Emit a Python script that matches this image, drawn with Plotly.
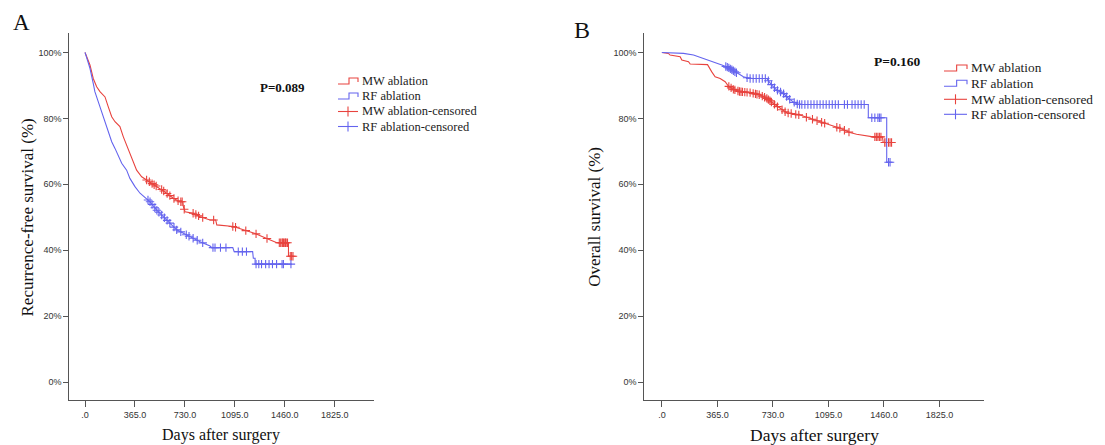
import numpy as np
import plotly.graph_objects as go

W, H = 1105, 445

# ---------------- data ----------------
x_tickvals = [0, 365, 730, 1095, 1460, 1825]
x_ticktext = [".0", "365.0", "730.0", "1095.0", "1460.0", "1825.0"]
y_tickvals = [0, 20, 40, 60, 80, 100]
y_ticktext = ["0%", "20%", "40%", "60%", "80%", "100%"]

# Panel A: recurrence-free survival
a_mw_days = [0, 36, 60, 85, 109, 146, 170, 195, 219, 255, 280, 304, 328, 353, 377, 414, 451, 487,
             548, 597, 645, 694, 715, 719, 731, 792, 841, 914, 955, 963, 1084, 1157, 1243, 1328,
             1402, 1487, 1487, 1523]
a_mw_surv = [100, 96.2, 92.1, 89.6, 88.1, 86.5, 83.5, 80.5, 79.0, 77.5, 74.4, 71.9, 69.4, 66.8,
             64.3, 62.3, 61.3, 60.3, 58.8, 57.3, 55.8, 54.7, 54.7, 53.2, 51.7, 51.2, 50.2, 49.2,
             49.2, 47.7, 47.2, 46.2, 45.1, 43.6, 42.3, 42.3, 38.2, 38.2]
a_rf_days = [0, 36, 60, 72, 97, 121, 146, 170, 195, 219, 243, 268, 304, 328, 365, 402, 475, 524,
             572, 621, 670, 719, 767, 841, 914, 926, 1080, 1090, 1225, 1230, 1243, 1243, 1511]
a_rf_surv = [100, 95.2, 90.6, 88.1, 85.0, 82.0, 79.0, 75.9, 72.9, 70.9, 68.4, 66.4, 64.3, 61.8,
             59.3, 57.3, 54.7, 52.2, 50.2, 48.2, 46.2, 45.2, 44.1, 42.6, 41.3, 40.8, 40.8, 39.6,
             39.6, 37.6, 37.6, 35.8, 35.8]
a_mw_cens = [450, 470, 490, 505, 520, 560, 575, 600, 620, 650, 680, 700, 710, 725, 790, 810, 830,
             860, 940, 1080, 1100, 1175, 1250, 1330, 1420, 1430, 1440, 1445, 1450, 1460, 1465, 1470,
             1480, 1500, 1510, 1520]
a_rf_cens = [460, 475, 490, 510, 525, 540, 560, 580, 600, 620, 650, 670, 700, 740, 760, 790, 820,
             860, 935, 950, 990, 1030, 1120, 1150, 1180, 1250, 1270, 1290, 1320, 1345, 1370, 1400,
             1440, 1450, 1505]

# Panel B: overall survival
b_mw_days = [0, 43, 54, 120, 131, 175, 186, 300, 328, 350, 383, 416, 437, 470, 514, 580, 645, 689,
             733, 777, 821, 908, 974, 1039, 1105, 1171, 1236, 1280, 1389, 1450, 1455, 1525]
b_mw_surv = [100, 99.7, 99.2, 98.7, 97.7, 97.2, 96.5, 96.3, 94.1, 92.6, 92.1, 91.1, 89.8, 88.8,
             88.1, 87.8, 87.1, 86.1, 84.5, 83.0, 81.7, 81.0, 80.0, 79.0, 78.0, 77.0, 75.7, 75.2,
             74.4, 74.4, 72.7, 72.7]
b_rf_days = [0, 76, 142, 208, 273, 339, 394, 437, 492, 536, 580, 689, 722, 755, 798, 831, 864, 897,
             1357, 1357, 1478, 1478, 1510]
b_rf_surv = [100, 99.9, 99.7, 99.2, 98.2, 97.2, 96.2, 95.4, 93.8, 92.6, 92.1, 92.1, 90.1, 88.6,
             87.6, 86.1, 85.0, 84.2, 84.2, 80.2, 80.2, 66.7, 66.7]
b_mw_cens = [440, 455, 470, 480, 500, 510, 520, 530, 545, 560, 580, 600, 615, 625, 640, 660, 675,
             690, 700, 710, 720, 740, 760, 790, 810, 830, 850, 880, 900, 950, 990, 1020, 1050, 1070,
             1150, 1170, 1200, 1230, 1400, 1410, 1420, 1430, 1440, 1465, 1475, 1490, 1500, 1510]
b_rf_cens = [420, 430, 440, 450, 460, 470, 480, 490, 560, 580, 600, 620, 640, 660, 680, 700, 720,
             740, 760, 780, 800, 820, 840, 870, 890, 905, 920, 940, 960, 980, 1000, 1020, 1040,
             1060, 1080, 1100, 1120, 1140, 1160, 1200, 1220, 1250, 1270, 1290, 1310, 1330, 1380,
             1400, 1420, 1430, 1440, 1490, 1500]

series_names = ["MW ablation", "RF ablation", "MW ablation-censored", "RF ablation-censored"]
p_values = ["P=0.089", "P=0.160"]
panel_letters = ["A", "B"]
y_titles = ["Recurrence-free survival (%)", "Overall survival (%)"]
x_title = "Days after surgery"

# ---------------- style ----------------
RED = "#e8433e"
BLUE = "#6464ee"
AXC = "#555555"
SERIF = "Liberation Serif, Times New Roman, serif"
SANS = "Arial, Liberation Sans, sans-serif"


def px(x):
    return x / W


def py(y):
    return 1 - y / H


fig = go.Figure()


def add_curve(days, surv, cens, color, xa, ya):
    fig.add_trace(go.Scatter(x=days, y=surv, mode="lines", line=dict(color=color, width=1.1),
                             xaxis=xa, yaxis=ya, hoverinfo="skip", showlegend=False))
    cy = np.interp(cens, days, surv)
    fig.add_trace(go.Scatter(x=cens, y=cy, mode="markers",
                             marker=dict(symbol="cross-thin", size=6,
                                         line=dict(color=color, width=1.1)),
                             xaxis=xa, yaxis=ya, hoverinfo="skip", showlegend=False))


add_curve(a_mw_days, a_mw_surv, a_mw_cens, RED, "x", "y")
add_curve(a_rf_days, a_rf_surv, a_rf_cens, BLUE, "x", "y")
add_curve(b_mw_days, b_mw_surv, b_mw_cens, RED, "x2", "y2")
add_curve(b_rf_days, b_rf_surv, b_rf_cens, BLUE, "x2", "y2")

ydom = [py(400), py(33.3)]
common_x = dict(range=[-115, 2115], tickvals=x_tickvals, ticktext=x_ticktext, ticks="outside",
                ticklen=6, tickcolor=AXC, tickwidth=1, showline=True, linecolor=AXC, linewidth=1,
                showgrid=False, zeroline=False, tickfont=dict(family=SANS, size=9, color="#333"),
                fixedrange=True)
common_y = dict(range=[-5.4, 105.8], tickvals=y_tickvals, ticktext=y_ticktext, ticks="outside",
                ticklen=5, tickcolor=AXC, tickwidth=1, showline=True, linecolor=AXC, linewidth=1,
                showgrid=False, zeroline=False, tickfont=dict(family=SANS, size=9, color="#333"),
                domain=ydom, fixedrange=True)

fig.update_layout(
    width=W, height=H, autosize=False,
    margin=dict(l=0, r=0, t=0, b=0, pad=0),
    paper_bgcolor="white", plot_bgcolor="white", showlegend=False,
    xaxis=dict(domain=[px(69.3), px(374.4)], anchor="y", **common_x),
    yaxis=dict(anchor="x", **common_y),
    xaxis2=dict(domain=[px(644.4), px(983.6)], anchor="y2", **common_x),
    yaxis2=dict(anchor="x2", **common_y),
)

ann = []
shapes = []


def text(x, y, s, size, family=SERIF, xanchor="center", textangle=0, color="#111"):
    ann.append(dict(x=px(x), y=py(y), xref="paper", yref="paper", text=s, showarrow=False,
                    xanchor=xanchor, yanchor="middle", textangle=textangle,
                    font=dict(family=family, size=size, color=color)))


# panel letters
text(21.5, 22.5, panel_letters[0], 23)
text(582, 30, panel_letters[1], 24)
# axis titles
text(27, 217.5, y_titles[0], 17, textangle=-90)
text(595, 216.7, y_titles[1], 17, textangle=-90)
text(221, 435, x_title, 16)
text(814, 435, x_title, 17.5)
# p values
text(282.5, 88, "<b>" + p_values[0] + "</b>", 13)
text(897, 62, "<b>" + p_values[1] + "</b>", 13.5)


def legend(x0, x1, rows, size):
    colors = [RED, BLUE, RED, BLUE]
    for i, (yy, c, name) in enumerate(zip(rows, colors, series_names)):
        if i < 2:
            xm = x0 + 0.55 * (x1 - x0)
            path = (f"M {px(x0)},{py(yy + 3)} L {px(xm)},{py(yy + 3)} L {px(xm)},{py(yy - 3)} "
                    f"L {px(x1)},{py(yy - 3)} L {px(x1)},{py(yy + 1)}")
            shapes.append(dict(type="path", xref="paper", yref="paper", path=path,
                               line=dict(color=c, width=1.1)))
        else:
            shapes.append(dict(type="line", xref="paper", yref="paper", x0=px(x0), x1=px(x1),
                               y0=py(yy), y1=py(yy), line=dict(color=c, width=1.1)))
            xm = (x0 + x1) / 2
            shapes.append(dict(type="line", xref="paper", yref="paper", x0=px(xm), x1=px(xm),
                               y0=py(yy - 5), y1=py(yy + 5), line=dict(color=c, width=1.1)))
        text(x1 + 2, yy, name, size, xanchor="left", color="#222")


legend(338, 358, [81, 96, 111.5, 126.5], 12.5)
legend(944, 967, [68, 83.3, 99.3, 114.3], 13.3)

fig.update_layout(annotations=ann, shapes=shapes)

fig.write_html("out.html", config={"displayModeBar": False, "staticPlot": True},
               post_script="document.body.style.margin='0';document.body.style.overflow='hidden';")
